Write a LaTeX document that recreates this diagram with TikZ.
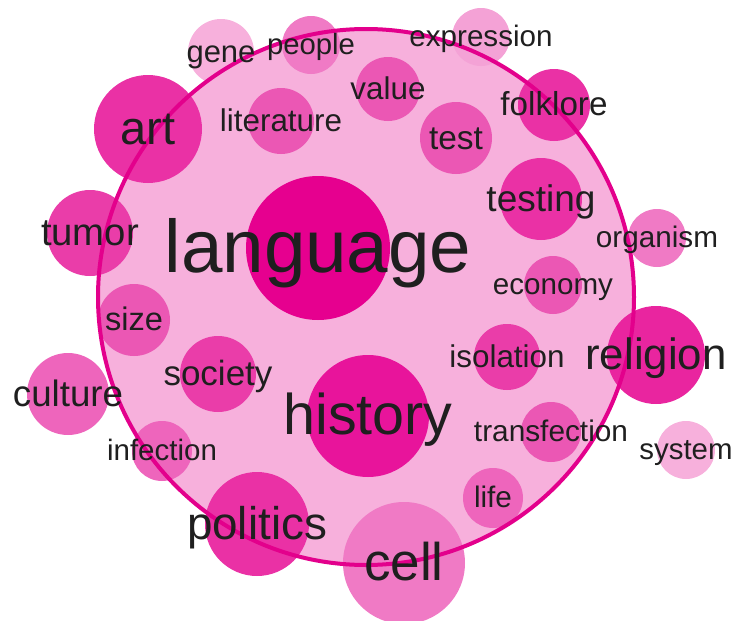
\documentclass[tikz,border=0pt]{standalone}
\usepackage{fontspec}
\setmainfont{Liberation Sans}
\usepackage{tikz}

\definecolor{c1}{HTML}{E6008F}
\definecolor{c2}{HTML}{E8149B}
\definecolor{c3}{HTML}{E9259F}
\definecolor{c4}{HTML}{EA31A5}
\definecolor{c5}{HTML}{EA3DA9}
\definecolor{c6}{HTML}{EB57B4}
\definecolor{c7}{HTML}{EE65BC}
\definecolor{c8}{HTML}{F07AC5}
\definecolor{c9}{HTML}{F4A2D6}
\definecolor{c10}{HTML}{F7B0DC}
\definecolor{ringline}{HTML}{E3008C}
\definecolor{ringfill}{HTML}{F7B0DC}

\tikzset{
	word/.style={text=black!88, inner sep=0pt, anchor=base},
	ring/.style={draw=ringline, line width=4pt}
}

\begin{document}
\begin{tikzpicture}[x=1pt, y=-1pt]

		\useasboundingbox (0,0) rectangle (734,621);

		% outer circle
		\coordinate (hub) at (366,297);
		\fill[ringfill] (hub) circle (268);

		\def\bubbles{318/248/72/c1/74.6/language, 368/416/61/c2/57.4/history,
			404/563/61/c8/53/cell, 257/524/52/c4/45.8/politics, 148/129/54/c4/47/art,
			656/355/49/c3/43.8/religion, 90/233/43/c5/38.3/tumor, 68/394/41/c7/36.7/culture,
			541/199/41/c4/37/testing, 218/374/38/c5/35/society, 134/320/36/c6/32.6/size,
			554/105/36/c4/33.2/folklore, 456/138/36/c6/33.5/test, 281/121/33/c6/31.4/literature,
			388/89/32/c6/31.4/value, 507/357/33/c5/31.4/isolation, 221/52/33/c10/31/gene,
			311/45/29/c8/29.3/people, 481/37/29/c9/29.6/expression, 657/238/29/c8/29.7/organism,
			553/285/29/c6/29.6/economy, 551/432/30/c6/29.8/transfection, 686/450/29/c10/29.4/system,
			493/498/30/c7/29.7/life, 162/451/30/c7/29.5/infection}

		\foreach \x/\y/\r/\col/\fs/\w in \bubbles {
				\fill[\col] (\x,\y) circle (\r);
			}

		\draw[ring] (hub) circle (268);

		\foreach \x/\y/\r/\col/\fs/\w in \bubbles {
				\node[word, font=\fontsize{\fs}{\fs}\selectfont] (\w) at (\x,{\y+0.33*\fs}) {\w};
			}
	\end{tikzpicture}
\end{document}
